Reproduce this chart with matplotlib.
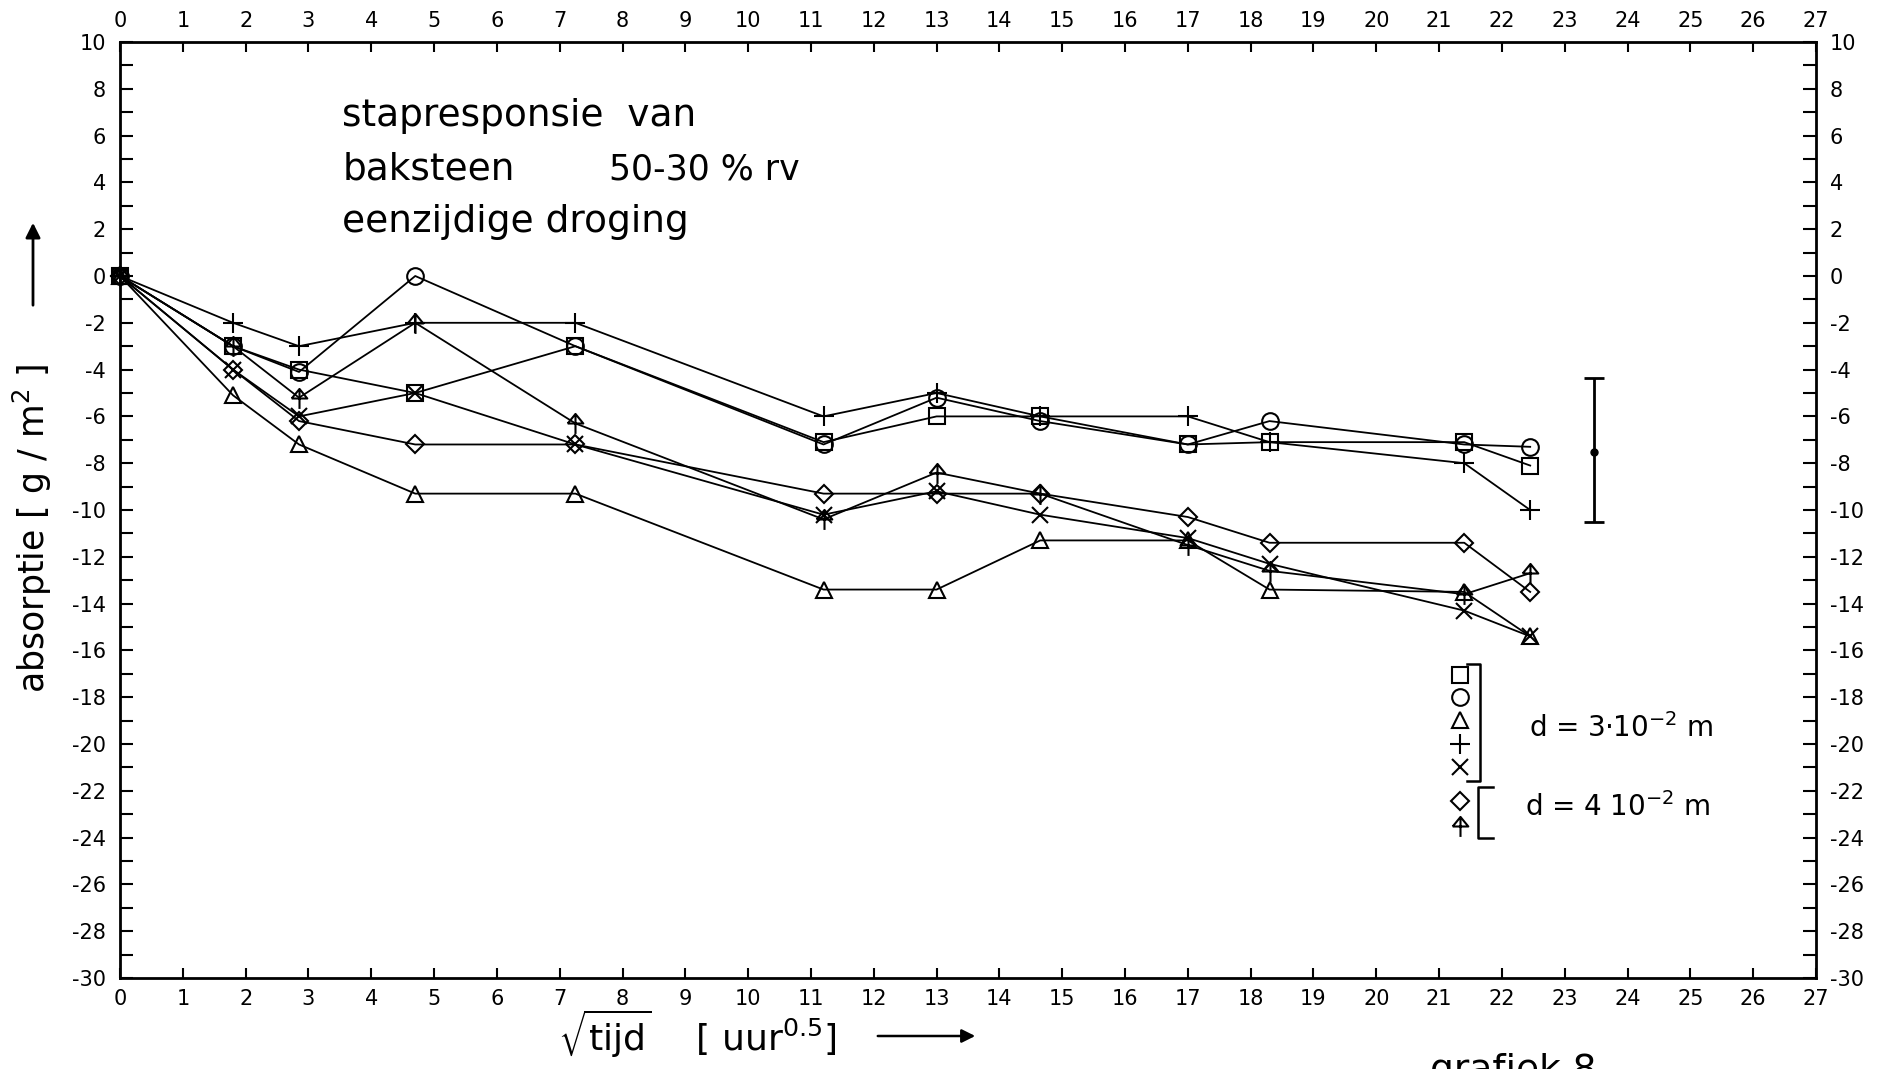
import matplotlib
matplotlib.use('Agg')
import matplotlib.pyplot as plt
from matplotlib.path import Path
from matplotlib.ticker import MultipleLocator, FuncFormatter

plt.rcParams['font.family'] = ['DejaVu Sans']
plt.rcParams['axes.unicode_minus'] = False

# ---------------- data ----------------
sqrt_t = [0, 1.8, 2.85, 4.7, 7.25, 11.2, 13.0, 14.65, 17.0, 18.3, 21.4, 22.45]

s_square   = [0, -3.0, -4.0, -5.0, -3.0, -7.1, -6.0, -6.0, -7.2, -7.1, -7.1, -8.1]
s_circle   = [0, -3.0, -4.1,  0.0, -3.0, -7.2, -5.2, -6.2, -7.2, -6.2, -7.2, -7.3]
s_triangle = [0, -5.1, -7.2, -9.3, -9.3, -13.4, -13.4, -11.3, -11.3, -13.4, -13.5, -15.4]
s_plus     = [0, -2.0, -3.0, -2.0, -2.0, -6.0, -5.0, -6.0, -6.0, -7.1, -8.0, -10.0]
s_cross    = [0, -4.0, -6.0, -5.0, -7.2, -10.2, -9.2, -10.2, -11.2, -12.3, -14.3, -15.4]
s_diamond  = [0, -4.0, -6.2, -7.2, -7.2, -9.3, -9.3, -9.3, -10.3, -11.4, -11.4, -13.5]
s_arrow    = [0, -3.0, -5.2, -2.0, -6.3, -10.4, -8.4, -9.3, -11.5, -12.6, -13.6, -12.7]

err_x = [23.47]
err_y = [-7.5]
err_lo = [3.0]
err_hi = [3.15]

x_ticks = list(range(0, 28))
y_ticks = list(range(-30, 11, 2))

# custom "arrow" marker: open triangle with a vertical stem
arrow_path = Path(
    [(-0.45, 0.0), (0.0, 0.55), (0.45, 0.0), (-0.45, 0.0), (0.0, 0.55), (0.0, -0.6)],
    [Path.MOVETO, Path.LINETO, Path.LINETO, Path.LINETO, Path.MOVETO, Path.LINETO])

series = [
    (s_square, 's', 11),
    (s_circle, 'o', 12),
    (s_triangle, '^', 11),
    (s_plus, '+', 15),
    (s_cross, 'x', 12),
    (s_diamond, 'D', 9),
    (s_arrow, arrow_path, 15),
]

W, H = 1882, 1069
fig = plt.figure(figsize=(W / 100, H / 100), dpi=100)
ax = fig.add_axes([120 / W, 1 - 978 / H, (1816 - 120) / W, (978 - 42) / H])

for yv, mk, ms in series:
    ax.plot(sqrt_t, yv, color='black', lw=1.3, marker=mk, ms=ms,
            mfc='none', mec='black', mew=1.5, clip_on=False)

ax.errorbar(err_x, err_y, yerr=[err_lo, err_hi], fmt='o', ms=5, color='black',
            elinewidth=2, capsize=7, capthick=2)

ax.set_xlim(0, 27)
ax.set_ylim(-30, 10)
ax.set_xticks(x_ticks)
ax.set_yticks(y_ticks)
ax.yaxis.set_minor_locator(MultipleLocator(1))
ax.yaxis.set_major_formatter(FuncFormatter(lambda v, p: f"{int(round(v))}"))
ax.tick_params(axis='x', which='both', direction='in', top=True, bottom=True,
               labeltop=True, labelbottom=True, length=7.5, width=1.5, pad=8,
               labelsize=15)
ax.tick_params(axis='y', which='both', direction='in', left=True, right=True,
               labelleft=True, labelright=True, length=9.5, width=1.5, pad=10,
               labelsize=15)
for sp in ax.spines.values():
    sp.set_linewidth(2)

# title block
ax.text(3.54, 6.42, "stapresponsie  van", fontsize=27, va='baseline')
ax.text(3.54, 4.14, "baksteen", fontsize=27, va='baseline')
ax.text(7.78, 4.14, "50-30 % rv", fontsize=25, va='baseline')
ax.text(3.54, 1.87, "eenzijdige droging", fontsize=27, va='baseline')

# legend (hand drawn in original)
leg_x = 21.33
leg_y = [-17.05, -18.0, -18.96, -20.0, -21.0, -22.45, -23.5]
for (yv, mk, ms), ly in zip(series, leg_y):
    ax.plot([leg_x], [ly], marker=mk, ms=ms, mfc='none', mec='black', mew=1.5,
            color='black', clip_on=False)
ax.plot([21.45, 21.65, 21.65, 21.45], [-16.6, -16.6, -21.6, -21.6], color='black', lw=1.8)
ax.plot([21.85, 21.62, 21.62, 21.85], [-21.85, -21.85, -24.0, -24.0], color='black', lw=1.8)
ax.text(22.43, -19.3, "d = 3·10$^{-2}$ m", fontsize=20, va='center')
ax.text(22.36, -22.7, "d = 4 10$^{-2}$ m", fontsize=20, va='center')

# axis labels
fig.text(32 / W, 1 - 528 / H, "absorptie [ g / m$^2$ ]", rotation=90,
         fontsize=25, ha='center', va='center')
fig.add_artist(matplotlib.patches.FancyArrowPatch(
    (33 / W, 1 - 308 / H), (33 / W, 1 - 220 / H), transform=fig.transFigure,
    arrowstyle='-|>', mutation_scale=22, lw=2, color='black'))

fig.text(558 / W, 1 - 1034 / H, r"$\sqrt{\mathrm{tijd}}$    [ uur$^{0.5}$]",
         fontsize=26, ha='left', va='center')
fig.add_artist(matplotlib.patches.FancyArrowPatch(
    (875 / W, 1 - 1036 / H), (978 / W, 1 - 1036 / H), transform=fig.transFigure,
    arrowstyle='-|>', mutation_scale=20, lw=1.8, color='black'))

fig.text(1430 / W, 1 - 1081 / H, "grafiek 8", fontsize=27, ha='left', va='baseline')

fig.savefig("out.png", dpi=100)
